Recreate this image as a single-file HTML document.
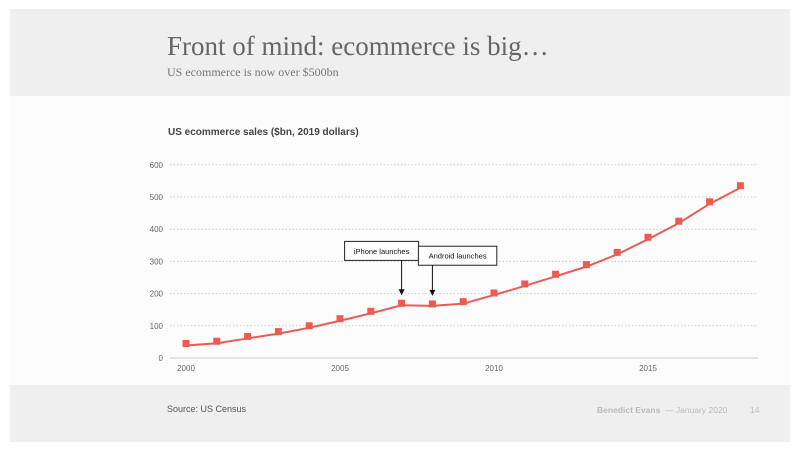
<!DOCTYPE html>
<html><head><meta charset="utf-8"><style>
body{margin:0;width:800px;height:450px;background:#fff;position:relative;overflow:hidden;font-family:"Liberation Sans",sans-serif}
.band{position:absolute;left:10px;width:780px;background:#efefef}
</style></head><body>
<div class="band" style="top:9px;height:87px"></div>
<div style="position:absolute;left:10px;top:96px;width:780px;height:289px;background:#fcfcfc"></div>
<div class="band" style="top:385px;height:57px"></div>
<div style="position:absolute;left:167px;top:31px;font-family:'Liberation Serif',serif;font-size:27px;color:#666">Front of mind: ecommerce is big…</div>
<div style="position:absolute;left:167px;top:65px;font-family:'Liberation Serif',serif;font-size:12px;color:#777">US ecommerce is now over $500bn</div>
<div style="position:absolute;left:167px;top:404px;font-size:9px;color:#555">Source: US Census</div>
<div style="position:absolute;left:597px;top:405px;font-size:8.5px;color:#bbb"><b>Benedict Evans</b> &nbsp;— January 2020</div>
<div style="position:absolute;left:750px;top:405px;font-size:8.5px;color:#bbb">14</div>
<svg id="chart" width="800" height="450" style="position:absolute;left:0;top:0"></svg>
<script>
const years=[2000,2001,2002,2003,2004,2005,2006,2007,2008,2009,2010,2011,2012,2013,2014,2015,2016,2017,2018];
const sales=[45,52,67,82,100,122,145,170,168,175,202,230,260,290,328,375,425,485,535];
const yTicks=[0,100,200,300,400,500,600];
const xTicks=[2000,2005,2010,2015];
const annotations=[{label:"iPhone launches",year:2007,value:300},{label:"Android launches",year:2008,value:285}];
const NS="http://www.w3.org/2000/svg";
const svg=document.getElementById('chart');
const x=v=>186+(v-2000)*30.8;
const y=v=>358-v*0.322;
function mk(t,a,p){const e=document.createElementNS(NS,t);for(const k in a)e.setAttribute(k,a[k]);(p||svg).appendChild(e);return e;}
const title=mk('text',{x:168,y:135,'font-size':10,'font-weight':'bold',fill:'#444'});


title.textContent='US ecommerce sales ($bn, 2019 dollars)';
yTicks.forEach(t=>{
  if(t>0){const g=mk('line',{x1:170,x2:758,y1:y(t),y2:y(t),stroke:'#ccc','stroke-dasharray':'1.5,2','stroke-width':1});
  
  }
  const l=mk('text',{x:163,y:y(t)+3,'font-size':8,fill:'#666','text-anchor':'end'});
  
  
  l.textContent=t;
});
const ax=mk('line',{x1:170,x2:758,y1:358,y2:358,stroke:'#ccc','stroke-width':1});


xTicks.forEach(t=>{
  const l=mk('text',{x:x(t),y:371,'font-size':8,fill:'#666','text-anchor':'middle'});
  
  
  l.textContent=t;
});
const line=mk('polyline',{points:years.map((d,i)=>x(d)+','+(y(sales[i])+2)).join(' '),fill:'none',stroke:'#ef5a50','stroke-width':2});


years.forEach((d,i)=>{
  const r=mk('rect',{x:x(d)-3.5,y:y(sales[i])-3.5,width:7,height:7,fill:'#ef5a50'});
  
  
});
annotations.forEach(a=>{
  const i=years.indexOf(a.year);const cx=x(a.year);const top=y(a.value)-20;
  const w=a.label.length*4.4+8;
  const bx=a.year===2007?cx-57:cx-14;
  const b=mk('rect',{x:bx,y:top,width:w,height:19,fill:'#fff',stroke:'#222','stroke-width':1});
  
  
  const t=mk('text',{x:bx+w/2,y:top+12.5,'font-size':7.5,fill:'#111','text-anchor':'middle'});
  
  
  t.textContent=a.label;
  const ay=y(sales[i])-8;
  const ln=mk('line',{x1:cx,x2:cx,y1:top+19,y2:ay-5,stroke:'#111','stroke-width':1});
  
  
  const h=mk('polygon',{points:`${cx-3},${ay-6} ${cx+3},${ay-6} ${cx},${ay}`,fill:'#111'});
  
  
});
</script>
</body></html>
